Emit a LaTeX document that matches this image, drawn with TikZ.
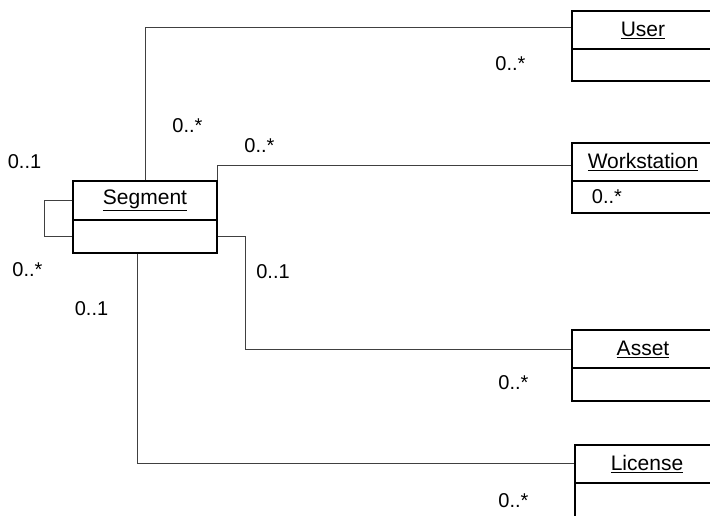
\documentclass[tikz,border=0pt]{standalone}
\usepackage{fontspec}
\setmainfont{Liberation Sans}
\begin{document}
\begin{tikzpicture}[x=1pt,y=-1pt,
  every node/.style={font=\fontsize{20}{24}\selectfont},
  clsname/.style={draw=black, line width=1.5pt, rectangle, inner sep=0pt,
    minimum width=#1, minimum height=38pt, font=\fontsize{21}{25}\selectfont},
  clsbody/.style={draw=black, line width=1.5pt, rectangle, inner sep=0pt,
    minimum width=#1, minimum height=32pt},
  conn/.style={draw=black!75, line width=1pt},
  mult/.style={inner sep=0pt}]
\clip (0,0) rectangle (710,516);
\fill[white] (0,0) rectangle (710,516);

% Segment class
\node[clsname=144pt, minimum height=39pt] (segname) at (145,200.5) {\underline{Segment}};
\node[clsbody=144pt, minimum height=33pt] (segbody) at (145,236.5) {};

% User class
\node[clsname=142pt] (username) at (643,30) {\underline{User}};
\node[clsbody=142pt] (userbody) at (643,65) {};

% Workstation class
\node[clsname=142pt] (wsname) at (643,162) {\underline{Workstation}};
\node[clsbody=142pt] (wsbody) at (643,197) {};

% Asset class
\node[clsname=142pt] (assetname) at (643,349) {\underline{Asset}};
\node[clsbody=142pt, minimum height=33pt] (assetbody) at (643,384.5) {};

% License class
\node[clsname=144pt] (licname) at (647,464) {\underline{License}};
\node[clsbody=144pt, minimum height=38pt] (licbody) at (647,502) {};

% Associations
\draw[conn] (segname.north) |- ([yshift=2pt]username.west);
\draw[conn] (segname.north east) |- ([yshift=-4pt]wsname.west);
\draw[conn] (segbody.east) -- ++(28,0) |- (assetname.west);
\draw[conn] ([xshift=-8pt]segbody.south) |- ([yshift=1pt]licname.west);
\draw[conn] (segname.west) -- ++(-28,0) |- (segbody.west);

% Multiplicities
\node[mult] (m1) at (510.5,64) {0..*};
\node[mult] (m2) at (187.5,126) {0..*};
\node[mult] (m3) at (259.5,146) {0..*};
\node[mult] (m4) at (24.5,162) {0..1};
\node[mult] (m5) at (27.5,270) {0..*};
\node[mult] (m6) at (91.5,309) {0..1};
\node[mult] (m7) at (273,272) {0..1};
\node[mult] (m8) at (607,197) {0..*};
\node[mult] (m9) at (513.5,383) {0..*};
\node[mult] (m10) at (513.5,501) {0..*};
\end{tikzpicture}
\end{document}
